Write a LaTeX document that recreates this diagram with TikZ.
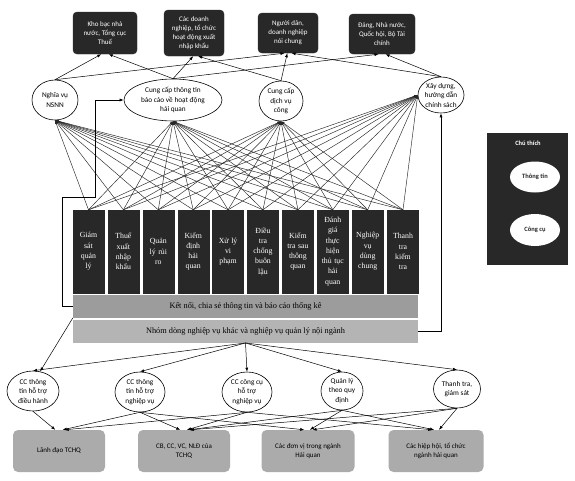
\documentclass[tikz,border=0pt]{standalone}
\usepackage{fontspec}
\setmainfont{Liberation Serif}
\setsansfont{Carlito}
\usetikzlibrary{shapes.geometric,arrows.meta,calc}
\definecolor{dk}{HTML}{282828}
\definecolor{barA}{HTML}{9C9C9C}
\definecolor{barB}{HTML}{B4B4B4}
\definecolor{bbox}{HTML}{ABABAB}
\newcommand\setfs[2]{\fontsize{#1}{#2}\selectfont}
\tikzset{
  topbox/.style={draw=dk, fill=dk, text=white, rounded corners=4pt, align=center,
     inner sep=1pt, font=\sffamily\setfs{7}{9}},
  ell/.style={ellipse, draw=black, fill=white, line width=0.6pt, align=center,
     inner sep=0pt, font=\sffamily\setfs{7.3}{9.5}},
  colbox/.style={draw=dk, fill=dk, text=white, minimum width=31pt, minimum height=83pt,
     text width=30pt, align=center, inner sep=0pt, font=\rmfamily\setfs{7.8}{10.3}},
  barbox/.style={draw=none, minimum width=345pt, minimum height=22.5pt, inner sep=0pt,
     font=\rmfamily\setfs{8.3}{10}},
  botbox/.style={draw=none, fill=bbox, rounded corners=5pt, minimum width=92pt,
     minimum height=42pt, align=center, inner sep=1pt, font=\sffamily\setfs{7}{9}},
  arr/.style={-{Latex[length=4pt,width=3pt]}, line width=0.5pt, black},
  web/.style={-{Latex[length=3.5pt,width=2.6pt]}, line width=0.45pt, black!85},
  legell/.style={ellipse, fill=white, minimum width=50pt, minimum height=31pt,
     inner sep=0pt, font=\sffamily\bfseries\setfs{6.5}{8}, text=dk}
}
\begin{document}
\begin{tikzpicture}[x=1pt,y=-1pt]
\useasboundingbox[fill=white] (0,0) rectangle (575,480);

% top stakeholder boxes
\node[topbox, minimum width=64pt, minimum height=42pt] (t1) at (105,33) {Kho bạc nhà\\nước, Tổng cục\\Thuế};
\node[topbox, minimum width=60pt, minimum height=46pt] (t2) at (194,33) {Các doanh\\nghiệp, tổ chức\\hoạt động xuất\\nhập khẩu};
\node[topbox, minimum width=60pt, minimum height=40pt] (t3) at (288,33) {Người dân,\\doanh nghiệp\\nói chung};
\node[topbox, minimum width=66pt, minimum height=40pt] (t4) at (382,34) {Đảng, Nhà nước,\\Quốc hội, Bộ Tài\\chính};

% outcome ellipses
\node[ell, minimum width=46pt, minimum height=40pt] (nsnn) at (55,100) {Nghĩa vụ\\NSNN};
\node[ell, minimum width=98pt, minimum height=42pt] (info) at (173,100) {Cung cấp thông tin\\báo cáo về hoạt động\\hải quan};
\node[ell, minimum width=44pt, minimum height=40pt] (dvc) at (281,101) {Cung cấp\\dịch vụ\\công};
\node[ell, minimum width=46pt, minimum height=36pt] (xd) at (441,95) {Xây dựng,\\hướng dẫn\\chính sách};

% business columns
\node[colbox] (c1) at (88.5,251.5) {Giám\\sát\\quản\\lý};
\node[colbox] (c2) at (123.4,251.5) {Thuế\\xuất\\nhập\\khẩu};
\node[colbox] (c3) at (158.3,251.5) {Quản\\lý rủi\\ro};
\node[colbox] (c4) at (193.2,251.5) {Kiểm\\định\\hải\\quan};
\node[colbox] (c5) at (228.1,251.5) {Xử lý\\vi\\phạm};
\node[colbox] (c6) at (263.0,251.5) {Điều\\tra\\chống\\buôn\\lậu};
\node[colbox] (c7) at (297.9,251.5) {Kiểm\\tra sau\\thông\\quan};
\node[colbox] (c8) at (332.8,251.5) {Đánh\\giá\\thực\\hiện\\thủ tục\\hải\\quan};
\node[colbox] (c9) at (367.7,251.5) {Nghiệp\\vụ\\dùng\\chung};
\node[colbox] (c10) at (403.0,251.5) {Thanh\\tra\\kiểm\\tra};

% bars
\node[barbox, fill=barA] (bar1) at (245.5,306.5) {Kết nối, chia sẻ thông tin và báo cáo thống kê};
\node[barbox, fill=barB] (bar2) at (245.5,331.5) {Nhóm dòng nghiệp vụ khác và nghiệp vụ quản lý nội ngành};

% bottom tool ellipses
\node[ell, minimum width=52pt, minimum height=40pt] (e1) at (33,391) {CC thông\\tin hỗ trợ\\điều hành};
\node[ell, minimum width=50pt, minimum height=40pt] (e2) at (140,392) {CC thông\\tin hỗ trợ\\nghiệp vụ};
\node[ell, minimum width=50pt, minimum height=40pt] (e3) at (247,392) {CC công cụ\\hỗ trợ\\nghiệp vụ};
\node[ell, minimum width=42pt, minimum height=38pt] (e4) at (342,391) {Quản lý\\theo quy\\định};
\node[ell, minimum width=47pt, minimum height=38pt] (e5) at (457,389) {Thanh tra,\\giám sát};

% bottom user boxes
\node[botbox] (b1) at (59,451) {Lãnh đạo TCHQ};
\node[botbox] (b2) at (184,451) {CB, CC, VC, NLĐ của\\TCHQ};
\node[botbox, minimum width=93pt] (b3) at (308,451) {Các đơn vị trong ngành\\Hải quan};
\node[botbox, minimum width=95pt] (b4) at (436,451) {Các hiệp hội, tổ chức\\ngành hải quan};

% legend
\node[fill=dk, minimum width=81pt, minimum height=132pt, inner sep=0pt] (leg) at (527.5,199) {};
\node[text=white, font=\sffamily\bfseries\setfs{6.5}{8}] (legt) at (528,143) {Chú thích};
\node[legell] (lg1) at (535,177) {Thông tin};
\node[legell, minimum height=32pt] (lg2) at (535,230) {Công cụ};

% web: columns -> outcome ellipses
\foreach \c in {1,...,10}{
  \draw[web] (c\c.north) -- (nsnn.south);
  \draw[web] (c\c.north) -- (info.south);
  \draw[web] (c\c.north) -- (dvc.south);
  \draw[web] (c\c.north) -- (xd.west);
}

% outcome ellipses -> stakeholders
\draw[arr] (nsnn.north) -- (t1.-100);
\draw[arr] (nsnn.north) -- (t3.-100);
\draw[arr] (info.north) -- (t1.-80);
\draw[arr] (info.north) -- (t2.-92);
\draw[arr] (info.north) -- (t4.-100);
\draw[arr] (dvc.north) -- (t3.-92);
\draw[arr] (dvc.north) -- (t2.-80);
\draw[arr] (xd.north) -- (t3.-80);
\draw[arr] (xd.north) -- (t4.-80);

% side connectors
\coordinate (lk) at (95,197);
\draw[arr] (bar1.west) -- ++(-11,0) |- (lk) |- (info.west);
\draw[arr] (bar2.east) -| (xd.south);

% bar -> tools
\foreach \e in {1,...,5}{ \draw[arr] (bar2.south) -- (e\e.north); }
\draw[arr] (bar1.south west) -- (e1.70);

% tools -> users
\draw[arr] (e1.south) -- (b1.100);
\draw[arr] (e2.south) -- (b1.80);
\draw[arr] (e2.south) -- (b2.100);
\draw[arr] (e2.south) -- (b3.100);
\draw[arr] (e3.south) -- (b1.75);
\draw[arr] (e3.south) -- (b2.82);
\draw[arr] (e3.south) -- (b4.100);
\draw[arr] (e4.south) -- (b2.78);
\draw[arr] (e4.south) -- (b3.85);
\draw[arr] (e4.south) -- (b4.95);
\draw[arr] (e5.south) -- (b2.74);
\draw[arr] (e5.south) -- (b3.78);
\draw[arr] (e5.south) -- (b4.82);
\end{tikzpicture}
\end{document}
